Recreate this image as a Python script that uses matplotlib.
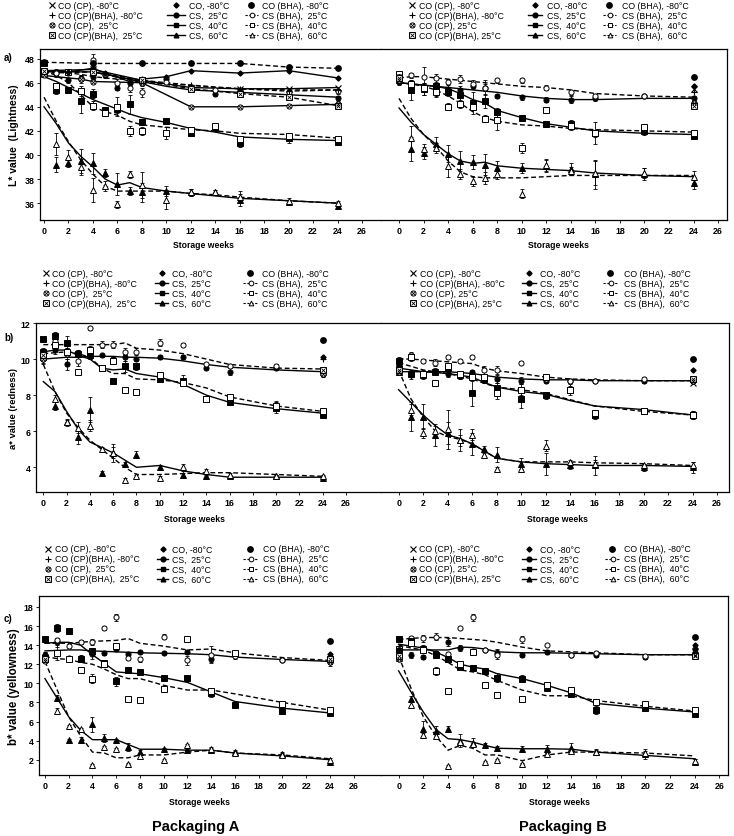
import matplotlib
matplotlib.use('Agg')
import matplotlib.pyplot as plt

plt.rcParams['font.family'] = ['Liberation Sans', 'DejaVu Sans']

# ---------------- data ----------------
WEEKS = [0, 1, 2, 3, 4, 5, 6, 7, 8, 10, 12, 14, 16, 20, 24]
XTICKS = list(range(0, 27, 2))

# L* packaging A
LA_cs25 = [46.9, 46.8, 46.2, 46.4, 46.5, 46.6, 45.6, 46.0, 46.0, 46.3, 45.5, 45.1, 45.4, 45.0, 44.7]
LA_cs25_err = [0.2, 0.2, 0.2, 0.2, 0.3, 0.2, 0.2, 0.3, 0.3, 0.2, 0.2, 0.2, 0.2, 0.2, 0.2]
LA_cs25_fit = [46.9, 46.9, 46.9, 46.9, 46.9, 46.7, 46.5, 46.3, 46.1, 45.7, 45.4, 45.3, 45.2, 45.0, 44.8]
LA_csb25 = [46.9, 46.8, 46.8, 46.3, 47.9, 46.7, 46.0, 45.6, 45.2, 46.1, 45.6, 45.4, 45.2, 45.2, 45.3]
LA_csb25_err = [0.2, 0.3, 0.2, 0.3, 0.5, 0.2, 0.3, 0.4, 0.4, 0.2, 0.2, 0.2, 0.3, 0.2, 0.2]
LA_csb25_fit = [46.9, 46.9, 46.8, 46.7, 46.5, 46.4, 46.3, 46.3, 46.2, 46.0, 45.8, 45.6, 45.5, 45.4, 45.4]
LA_cs40 = [47.6, 45.4, 45.4, 44.5, 45.1, 43.7, 43.8, 44.2, 42.7, 42.8, 41.8, 42.2, 41.0, 41.4, 41.1]
LA_cs40_err = [0.2, 0.3, 0.2, 1.0, 0.4, 0.3, 0.3, 0.8, 0.2, 0.2, 0.2, 0.2, 0.3, 0.4, 0.2]
LA_cs40_fit = [46.5, 46.1, 45.6, 45.1, 44.6, 44.2, 43.8, 43.4, 43.1, 42.7, 42.2, 41.9, 41.5, 41.3, 41.2]
LA_csb40 = [46.9, 45.7, 46.9, 45.3, 44.1, 43.5, 44.0, 42.0, 42.0, 41.8, 42.1, 42.4, 41.3, 41.6, 41.3]
LA_csb40_err = [0.2, 0.3, 0.2, 0.4, 0.4, 0.3, 0.8, 0.4, 0.3, 0.5, 0.2, 0.2, 0.3, 0.2, 0.2]
LA_csb40_fit = [47.0, 46.6, 46.0, 45.0, 44.0, 43.6, 43.3, 42.8, 42.5, 42.3, 42.1, 42.0, 41.8, 41.7, 41.4]
LA_cs60 = [46.8, 39.2, 39.3, 39.5, 39.3, 38.5, 37.6, 37.0, 36.9, 37.0, 36.9, 36.9, 36.3, 36.1, 35.8]
LA_cs60_err = [0.2, 0.6, 0.3, 1.0, 0.9, 0.3, 0.9, 0.3, 0.8, 0.4, 0.3, 0.2, 0.5, 0.2, 0.2]
LA_cs60_fit = [44.0, 42.6, 41.0, 39.9, 39.0, 38.0, 37.5, 37.7, 37.3, 37.0, 36.8, 36.6, 36.4, 36.2, 36.0]
LA_csb60 = [46.7, 40.9, 39.8, 39.0, 37.1, 37.4, 35.9, 38.4, 37.5, 36.3, 36.9, 36.9, 36.5, 36.2, 36.0]
LA_csb60_err = [0.2, 0.9, 0.6, 0.7, 1.0, 0.4, 0.3, 0.3, 1.1, 0.8, 0.3, 0.2, 0.5, 0.2, 0.2]
LA_csb60_fit = [44.8, 42.8, 41.1, 39.6, 38.4, 37.4, 37.0, 37.0, 37.0, 37.0, 36.8, 36.7, 36.5, 36.2, 36.0]
# CO series in L* packaging A (tracked over time)
LA_co80_wk = [0, 2, 4, 5, 7, 8, 10, 12, 16, 20, 24]
LA_co80 = [47.0, 46.9, 47.2, 46.8, 46.1, 46.3, 46.5, 47.0, 46.8, 47.0, 46.4]
LA_cobha80_wk = [0, 4, 8, 12, 16, 20, 24]
LA_cobha80 = [47.7, 47.6, 47.6, 47.6, 47.6, 47.3, 47.2]
LA_cocp80_wk = [0, 4, 8, 12, 16, 20, 24]
LA_cocp80 = [47.0, 47.1, 46.2, 45.6, 45.5, 45.5, 45.6]
LA_cocpbha80_wk = [0, 4, 8, 12, 16, 20, 24]
LA_cocpbha80 = [46.8, 46.9, 46.0, 45.8, 45.5, 45.3, 45.4]
LA_cocp25_wk = [0, 3, 4, 8, 12, 16, 20, 24]
LA_cocp25 = [46.6, 46.3, 46.1, 46.0, 44.0, 44.0, 44.1, 44.2]
LA_cocpbha25_wk = [0, 4, 8, 12, 16, 20, 24]
LA_cocpbha25 = [47.0, 46.9, 46.2, 45.5, 45.1, 44.8, 44.1]

# L* packaging B
LB_cs25 = [46.1, 45.9, 45.5, 45.2, 45.5, 45.4, 45.7, 45.6, 44.9, 44.8, 44.6, 44.6, 44.7, 44.9, 44.7]
LB_cs25_err = [0.3, 0.2, 0.5, 0.4, 0.3, 0.3, 0.2, 0.3, 0.2, 0.2, 0.2, 0.3, 0.2, 0.2, 0.2]
LB_cs25_fit = [46.0, 45.9, 45.8, 45.7, 45.6, 45.5, 45.4, 45.3, 45.2, 44.9, 44.7, 44.6, 44.6, 44.7, 44.7]
LB_csb25 = [46.6, 46.6, 46.5, 46.4, 46.1, 46.3, 45.9, 45.6, 46.2, 46.2, 45.6, 45.2, 44.9, 44.9, 44.3]
LB_csb25_err = [0.2, 0.2, 0.8, 0.3, 0.2, 0.3, 0.3, 0.6, 0.2, 0.2, 0.2, 0.2, 0.2, 0.2, 0.2]
LB_csb25_fit = [46.4, 46.5, 46.5, 46.4, 46.3, 46.2, 46.1, 46.0, 45.9, 45.7, 45.6, 45.4, 45.1, 44.9, 44.8]
LB_cs40 = [46.6, 45.4, 45.5, 45.7, 45.2, 45.0, 44.3, 44.5, 43.6, 43.1, 42.6, 42.6, 41.8, 42.0, 41.6]
LB_cs40_err = [0.3, 0.8, 0.5, 0.3, 0.3, 0.4, 0.9, 0.6, 0.3, 0.2, 0.2, 0.3, 0.9, 0.3, 0.3]
LB_cs40_fit = [46.0, 45.9, 45.8, 45.7, 45.5, 45.1, 44.6, 44.3, 43.7, 43.1, 42.6, 42.3, 42.0, 41.8, 41.7]
LB_csb40 = [46.7, 45.9, 45.6, 45.2, 44.0, 44.2, 44.0, 43.0, 42.9, 40.6, 43.7, 42.4, 41.8, 42.3, 41.8]
LB_csb40_err = [0.3, 0.3, 0.3, 0.3, 0.3, 0.3, 0.3, 0.3, 0.8, 0.4, 0.2, 0.3, 0.3, 0.3, 0.3]
LB_csb40_fit = [46.0, 45.9, 45.7, 45.4, 44.9, 44.3, 43.6, 43.1, 42.8, 42.5, 42.4, 42.2, 42.1, 42.0, 41.9]
LB_cs60 = [46.2, 40.5, 40.2, 40.9, 40.1, 39.5, 39.4, 39.2, 38.9, 38.9, 39.1, 38.8, 38.4, 38.4, 37.7]
LB_cs60_err = [0.3, 1.0, 0.5, 0.6, 0.7, 0.8, 0.6, 0.9, 0.6, 0.4, 0.5, 0.5, 1.2, 0.5, 0.5]
LB_cs60_fit = [43.9, 42.7, 41.7, 40.9, 40.1, 39.5, 39.3, 39.4, 39.1, 38.9, 38.8, 38.7, 38.5, 38.3, 38.2]
LB_csb60 = [46.3, 41.4, 40.5, 40.6, 39.1, 38.4, 37.8, 38.1, 38.4, 36.8, 39.2, 38.7, 38.5, 38.5, 38.2]
LB_csb60_err = [0.3, 1.0, 0.4, 0.4, 0.9, 0.4, 0.4, 0.5, 0.4, 0.4, 0.5, 0.3, 1.0, 0.4, 0.5]
LB_csb60_fit = [44.7, 43.0, 41.7, 40.7, 39.5, 38.6, 38.2, 38.1, 38.1, 38.1, 38.2, 38.3, 38.3, 38.3, 38.3]
LB_co = {'co80': [46.3, 45.75], 'cobha80': [46.5, 46.5], 'cocp80': [46.5, 45.5],
         'cocpbha80': [46.4, 45.2], 'cocp25': [46.2, 44.3], 'cocpbha25': [46.4, 44.1]}

# a* packaging A
aA_cs25 = [10.0, 10.5, 9.7, 10.3, 10.2, 10.2, 10.0, 10.1, 10.0, 10.1, 10.1, 9.5, 9.3, 9.5, 9.3]
aA_cs25_err = [0.3, 0.2, 0.3, 0.2, 0.2, 0.1, 0.1, 0.2, 0.1, 0.1, 0.1, 0.1, 0.2, 0.1, 0.2]
aA_cs25_fit = [10.0, 10.05, 10.1, 10.1, 10.15, 10.15, 10.15, 10.1, 10.1, 10.05, 9.9, 9.7, 9.55, 9.4, 9.3]
aA_csb25 = [10.3, 11.0, 10.3, 9.9, 11.7, 10.8, 10.8, 10.4, 10.4, 10.9, 10.8, 9.7, 9.6, 9.6, 9.2]
aA_csb25_err = [0.2, 0.3, 0.3, 0.3, 0.1, 0.2, 0.2, 0.2, 0.2, 0.2, 0.1, 0.1, 0.1, 0.1, 0.2]
aA_csb25_fit = [10.8, 10.8, 10.8, 10.8, 10.8, 10.8, 10.8, 10.9, 10.6, 10.5, 10.3, 10.0, 9.7, 9.5, 9.45]
aA_cs40 = [11.1, 11.3, 10.9, 10.3, 10.2, 9.5, 8.8, 9.6, 9.6, 8.9, 8.8, 7.8, 7.6, 7.3, 6.9]
aA_cs40_err = [0.1, 0.2, 0.4, 0.2, 0.2, 0.1, 0.1, 0.3, 0.2, 0.1, 0.3, 0.1, 0.1, 0.3, 0.1]
aA_cs40_fit = [10.4, 10.5, 10.5, 10.2, 10.0, 9.5, 9.4, 9.45, 9.2, 9.0, 8.6, 8.0, 7.6, 7.25, 7.0]
aA_csb40 = [10.4, 10.8, 10.4, 9.3, 10.5, 9.5, 9.9, 8.3, 8.2, 9.1, 8.7, 7.8, 7.9, 7.4, 7.1]
aA_csb40_err = [0.2, 0.2, 0.2, 0.1, 0.2, 0.1, 0.1, 0.1, 0.1, 0.2, 0.2, 0.1, 0.1, 0.3, 0.1]
aA_csb40_fit = [10.3, 10.35, 10.4, 10.3, 10.1, 9.5, 9.2, 9.2, 8.9, 8.85, 8.7, 8.4, 7.9, 7.4, 7.1]
aA_cs60 = [10.1, 7.4, 6.5, 5.7, 7.2, 3.7, 4.8, 4.2, 4.7, 4.0, 3.6, 3.5, 3.5, 3.5, 3.4]
aA_cs60_err = [0.3, 0.2, 0.1, 0.4, 0.7, 0.1, 0.5, 0.1, 0.2, 0.1, 0.1, 0.1, 0.1, 0.1, 0.1]
aA_cs60_fit = [8.75, 8.2, 7.1, 6.1, 5.4, 5.1, 4.8, 4.4, 4.0, 4.1, 3.8, 3.6, 3.45, 3.45, 3.45]
aA_csb60 = [10.2, 7.8, 6.5, 6.2, 6.3, 5.0, 4.8, 3.3, 3.5, 3.4, 4.0, 3.8, 3.6, 3.5, 3.5]
aA_csb60_err = [0.2, 0.2, 0.2, 0.3, 0.3, 0.1, 0.3, 0.1, 0.1, 0.1, 0.2, 0.1, 0.1, 0.1, 0.1]
aA_csb60_fit = [9.7, 8.2, 7.0, 6.2, 5.5, 5.0, 4.5, 4.0, 3.6, 3.6, 3.65, 3.7, 3.7, 3.6, 3.5]
aA_co = {'co80': [10.3, 10.1], 'cobha80': [10.4, 11.05], 'cocp80': [10.3, 9.3],
         'cocpbha80': [10.2, 10.0], 'cocp25': [10.0, 9.2], 'cocpbha25': [10.2, 9.4]}

# a* packaging B
aB_cs25 = [9.3, 9.1, 9.2, 9.3, 9.2, 9.1, 9.3, 9.0, 8.9, 8.8, 8.8, 8.8, 8.8, 8.8, 8.8]
aB_cs25_err = [0.2, 0.2, 0.1, 0.1, 0.2, 0.2, 0.1, 0.2, 0.2, 0.2, 0.1, 0.1, 0.1, 0.1, 0.1]
aB_cs25_fit = [9.3, 9.3, 9.3, 9.3, 9.3, 9.25, 9.2, 9.1, 9.0, 8.9, 8.85, 8.85, 8.8, 8.8, 8.8]
aB_csb25 = [9.5, 10.2, 9.9, 9.8, 10.1, 9.9, 10.1, 9.4, 9.4, 9.8, 8.9, 8.8, 8.8, 8.9, 8.8]
aB_csb25_err = [0.2, 0.2, 0.1, 0.2, 0.1, 0.1, 0.1, 0.2, 0.2, 0.1, 0.1, 0.1, 0.1, 0.1, 0.1]
aB_csb25_fit = [10.0, 10.0, 9.95, 9.9, 9.85, 9.8, 9.75, 9.5, 9.35, 9.2, 9.0, 8.9, 8.85, 8.8, 8.8]
aB_cs40 = [9.9, 9.2, 9.1, 9.3, 9.5, 9.1, 8.1, 8.9, 8.4, 7.8, 8.0, 8.3, 6.9, 7.1, 6.9]
aB_cs40_err = [0.2, 0.2, 0.2, 0.2, 0.2, 0.2, 0.7, 0.2, 0.3, 0.5, 0.2, 0.3, 0.2, 0.1, 0.2]
aB_cs40_fit = [9.5, 9.4, 9.3, 9.25, 9.2, 9.1, 9.0, 8.7, 8.45, 8.2, 8.05, 7.7, 7.4, 7.2, 6.9]
aB_csb40 = [9.4, 10.1, 9.2, 8.7, 9.6, 9.2, 9.0, 9.0, 8.1, 8.3, 9.0, 8.3, 7.0, 7.1, 6.9]
aB_csb40_err = [0.2, 0.2, 0.2, 0.1, 0.2, 0.1, 0.1, 0.2, 0.3, 0.3, 0.1, 0.2, 0.2, 0.1, 0.2]
aB_csb40_fit = [9.8, 9.6, 9.4, 9.3, 9.2, 9.05, 8.9, 8.65, 8.45, 8.3, 8.1, 7.75, 7.4, 7.1, 6.9]
aB_cs60 = [9.3, 6.8, 6.8, 5.8, 5.9, 5.5, 5.3, 5.0, 4.7, 4.2, 4.2, 4.1, 4.1, 4.0, 4.0]
aB_cs60_err = [0.2, 0.8, 0.7, 0.6, 0.6, 0.6, 0.6, 0.2, 0.4, 0.3, 0.6, 0.2, 0.5, 0.2, 0.3]
aB_cs60_fit = [8.3, 7.6, 6.9, 6.3, 5.8, 5.6, 5.3, 4.9, 4.5, 4.3, 4.2, 4.15, 4.1, 4.1, 4.05]
aB_csb60 = [9.3, 7.2, 5.9, 6.0, 6.1, 5.5, 5.8, 4.7, 3.9, 3.9, 5.2, 4.3, 4.2, 4.1, 4.1]
aB_csb60_err = [0.2, 0.3, 0.3, 0.3, 1.1, 0.3, 0.3, 0.2, 0.1, 0.1, 0.3, 0.1, 0.2, 0.1, 0.2]
aB_csb60_fit = [9.4, 7.8, 6.8, 6.0, 5.7, 5.55, 5.3, 4.9, 4.5, 4.3, 4.3, 4.3, 4.25, 4.2, 4.1]
aB_co = {'co80': [9.5, 9.4], 'cobha80': [9.6, 10.0], 'cocp80': [9.6, 8.7],
         'cocpbha80': [9.5, 8.8], 'cocp25': [9.3, 8.8], 'cocpbha25': [9.4, 8.9]}

# b* packaging A
bA_cs25 = [13.0, 14.3, 12.7, 12.7, 13.1, 13.2, 13.6, 13.1, 13.3, 13.2, 13.3, 12.6, 13.0, 12.4, 12.2]
bA_cs25_err = [0.3, 0.5, 0.2, 0.3, 0.5, 0.2, 0.2, 0.2, 0.1, 0.1, 0.2, 0.4, 0.2, 0.1, 0.4]
bA_cs25_fit = [13.4, 13.45, 13.5, 13.5, 13.4, 13.35, 13.3, 13.25, 13.2, 13.15, 13.1, 13.0, 12.75, 12.5, 12.3]
bA_csb25 = [12.5, 14.5, 13.9, 14.3, 14.3, 15.8, 16.9, 12.7, 12.5, 14.9, 12.4, 13.0, 12.9, 12.4, 12.4]
bA_csb25_err = [0.3, 0.3, 0.2, 0.2, 0.3, 0.2, 0.4, 0.3, 0.3, 0.3, 0.5, 0.9, 0.3, 0.1, 0.3]
bA_csb25_fit = [14.2, 14.2, 14.2, 14.3, 14.4, 14.45, 14.5, 14.7, 14.2, 13.9, 13.5, 13.6, 13.2, 12.7, 12.4]
bA_cs40 = [14.6, 15.8, 15.5, 12.5, 13.4, 12.1, 10.2, 11.4, 11.2, 10.6, 10.6, 9.0, 7.7, 7.1, 6.9]
bA_cs40_err = [0.2, 0.4, 0.2, 0.2, 0.3, 0.2, 0.5, 0.3, 0.2, 0.2, 0.2, 0.4, 0.2, 0.1, 0.2]
bA_cs40_fit = [14.2, 14.3, 14.3, 14.0, 13.0, 12.1, 11.2, 11.1, 11.0, 10.6, 10.1, 9.1, 8.1, 7.4, 6.9]
bA_csb40 = [12.7, 13.2, 12.6, 11.4, 10.5, 12.0, 13.9, 8.4, 8.3, 9.4, 14.6, 9.2, 13.2, 7.8, 7.2]
bA_csb40_err = [0.3, 0.8, 0.2, 0.2, 0.5, 0.2, 0.3, 0.1, 0.3, 0.3, 0.2, 0.3, 0.2, 0.1, 0.2]
bA_csb40_fit = [12.8, 12.6, 12.5, 12.2, 12.0, 11.5, 10.9, 10.5, 10.5, 9.8, 9.3, 9.3, 8.9, 8.0, 7.2]
bA_cs60 = [13.0, 8.5, 4.1, 4.1, 5.7, 4.3, 4.1, 3.3, 2.8, 3.1, 3.0, 3.0, 2.8, 2.6, 1.8]
bA_cs60_err = [0.3, 0.3, 0.1, 0.3, 0.8, 0.4, 0.1, 0.4, 0.2, 0.1, 0.1, 0.2, 0.2, 0.2, 0.2]
bA_cs60_fit = [10.5, 8.5, 6.5, 5.1, 4.1, 4.1, 4.1, 3.6, 3.1, 3.1, 3.0, 3.0, 2.7, 2.4, 2.0]
bA_csb60 = [12.6, 7.1, 5.5, 5.2, 1.4, 3.3, 3.1, 1.6, 2.4, 2.0, 3.5, 3.1, 2.7, 2.5, 2.0]
bA_csb60_err = [0.3, 0.3, 0.1, 0.1, 0.1, 0.1, 0.1, 0.1, 0.1, 0.1, 0.1, 0.2, 0.2, 0.2, 0.2]
bA_csb60_fit = [12.3, 9.4, 6.5, 4.5, 2.8, 2.7, 2.2, 2.2, 2.5, 2.5, 2.8, 3.0, 2.7, 2.5, 2.1]
bA_co = {'co80': [13.0, 13.1], 'cobha80': [12.9, 14.4], 'cocp80': [12.6, 12.5],
         'cocpbha80': [12.7, 12.8], 'cocp25': [12.3, 12.2], 'cocpbha25': [12.6, 12.5]}

# b* packaging B
bB_cs25 = [13.0, 13.0, 12.8, 13.2, 14.3, 13.7, 13.4, 13.5, 13.2, 13.0, 13.3, 13.0, 13.0, 12.8, 13.6]
bB_cs25_err = [0.5, 0.3, 0.2, 0.2, 0.4, 0.3, 0.2, 0.2, 0.4, 0.2, 0.2, 0.2, 0.2, 0.2, 0.3]
bB_cs25_fit = [13.5, 13.5, 13.5, 13.5, 13.5, 13.8, 13.75, 13.6, 13.3, 13.2, 13.2, 13.15, 13.1, 13.0, 13.0]
bB_csb25 = [12.6, 14.8, 14.7, 14.9, 13.1, 15.8, 16.9, 13.5, 13.0, 14.6, 14.0, 13.0, 13.2, 12.9, 13.2]
bB_csb25_err = [0.3, 0.2, 0.4, 0.4, 0.2, 0.1, 0.4, 0.2, 0.5, 0.4, 0.1, 0.1, 0.2, 0.2, 0.2]
bB_csb25_fit = [14.6, 14.7, 14.8, 14.8, 14.8, 14.7, 14.6, 14.5, 14.3, 13.8, 13.4, 13.3, 13.2, 13.0, 13.0]
bB_cs40 = [14.6, 14.4, 13.6, 13.0, 12.6, 11.7, 11.6, 11.3, 10.6, 10.5, 9.5, 8.9, 7.2, 7.4, 6.8]
bB_cs40_err = [0.2, 0.3, 0.4, 0.3, 0.2, 0.3, 0.3, 0.3, 0.5, 0.4, 0.3, 0.3, 0.4, 0.2, 0.2]
bB_cs40_fit = [14.1, 13.9, 13.7, 13.3, 12.7, 12.0, 11.7, 11.5, 11.0, 10.5, 9.8, 9.0, 7.9, 7.4, 7.0]
bB_csb40 = [13.6, 14.2, 13.5, 11.3, 9.2, 12.0, 13.3, 9.8, 8.8, 8.4, 9.8, 9.3, 8.0, 7.8, 7.2]
bB_csb40_err = [0.2, 0.2, 0.2, 0.4, 0.3, 0.3, 0.2, 0.1, 0.3, 0.1, 0.1, 0.3, 0.3, 0.2, 0.2]
bB_csb40_fit = [14.0, 13.7, 13.5, 12.9, 12.2, 11.4, 11.2, 10.9, 10.3, 9.3, 8.7, 8.7, 8.2, 7.6, 7.1]
bB_cs60 = [13.2, 8.4, 5.2, 5.0, 5.2, 4.0, 3.8, 3.5, 3.2, 3.1, 3.1, 3.2, 2.8, 2.6, 1.8]
bB_cs60_err = [0.3, 0.3, 0.9, 0.5, 0.3, 0.7, 0.5, 0.3, 0.2, 0.3, 0.4, 0.6, 0.3, 0.5, 0.3]
bB_cs60_fit = [11.3, 9.1, 7.0, 5.2, 4.2, 4.1, 3.85, 3.5, 3.2, 3.15, 3.15, 3.1, 2.8, 2.45, 2.1]
bB_csb60 = [12.7, 7.7, 4.6, 4.5, 1.3, 3.9, 3.6, 1.8, 2.0, 1.6, 2.6, 2.9, 2.8, 2.7, 1.9]
bB_csb60_err = [0.3, 0.3, 0.2, 0.2, 0.1, 0.2, 0.2, 0.1, 0.1, 0.1, 0.1, 0.2, 0.2, 0.2, 0.2]
bB_csb60_fit = [12.9, 9.5, 6.5, 4.5, 3.0, 3.5, 3.2, 2.5, 2.5, 1.9, 2.5, 2.8, 2.8, 2.7, 2.4]
bB_co = {'co80': [13.3, 14.0], 'cobha80': [13.5, 14.9], 'cocp80': [13.0, 13.4],
         'cocpbha80': [13.2, 13.3], 'cocp25': [12.6, 13.0], 'cocpbha25': [12.9, 12.9]}
CO_WEEKS = [0, 24]

# legend texts
LEG1_A = ["CO (CP), -80\u00b0C", "CO (CP)(BHA), -80\u00b0C", "CO (CP),  25\u00b0C", "CO (CP)(BHA),  25\u00b0C"]
LEG1_B = ["CO (CP), -80\u00b0C", "CO (CP)(BHA), -80\u00b0C", "CO (CP), 25\u00b0C", "CO (CP)(BHA), 25\u00b0C"]
LEG2 = ["CO, -80\u00b0C", "CS,  25\u00b0C", "CS,  40\u00b0C", "CS,  60\u00b0C"]
LEG3 = ["CO (BHA), -80\u00b0C", "CS (BHA),  25\u00b0C", "CS (BHA),  40\u00b0C", "CS (BHA),  60\u00b0C"]

# ---------------- drawing ----------------
W, H = 734, 837
fig = plt.figure(figsize=(W / 100, H / 100), dpi=100)

TICKFONT = dict(fontsize=6.4, fontweight='bold')
DASH = (0, (3.5, 2))
LEGFS = 6.3
LW = 1.0


def add_ax(x0, x1, y0, y1):
    return fig.add_axes([x0 / W, 1 - y1 / H, (x1 - x0) / W, (y1 - y0) / H])


def mk(ax, x, y, kind, ms=3.7, zorder=5):
    if kind == 'x':
        ax.plot(x, y, ls='none', marker='x', ms=ms, mec='k', mew=0.8, zorder=zorder)
    elif kind == '+':
        ax.plot(x, y, ls='none', marker='+', ms=ms + 0.8, mec='k', mew=0.8, zorder=zorder)
    elif kind == 'ox':
        ax.plot(x, y, ls='none', marker='o', ms=ms, mfc='white', mec='k', mew=0.7, zorder=zorder)
        ax.plot(x, y, ls='none', marker='x', ms=ms * 0.6, mec='k', mew=0.6, zorder=zorder + 0.1)
    elif kind == 'sx':
        ax.plot(x, y, ls='none', marker='s', ms=ms, mfc='white', mec='k', mew=0.7, zorder=zorder)
        ax.plot(x, y, ls='none', marker='x', ms=ms * 0.7, mec='k', mew=0.6, zorder=zorder + 0.1)
    elif kind == 'D':
        ax.plot(x, y, ls='none', marker='D', ms=ms * 0.7, mfc='k', mec='k', zorder=zorder)
    elif kind == 'O':
        ax.plot(x, y, ls='none', marker='o', ms=ms * 1.05, mfc='k', mec='k', zorder=zorder)


def draw_cs(ax, pts, err, fit, marker, filled, dashed):
    ax.plot(WEEKS, fit, color='k', lw=LW, ls=DASH if dashed else '-', zorder=2)
    ax.errorbar(WEEKS, pts, yerr=err, fmt='none', ecolor='k', elinewidth=0.6,
                capsize=1.5, capthick=0.6, zorder=3)
    ax.plot(WEEKS, pts, ls='none', marker=marker, ms=3.7,
            mfc='k' if filled else 'white', mec='k', mew=0.7, zorder=4)


CO_KINDS = {'co80': 'D', 'cobha80': 'O', 'cocp80': 'x', 'cocpbha80': '+', 'cocp25': 'ox', 'cocpbha25': 'sx'}


def draw_panel(ax, d, co):
    draw_cs(ax, d[0], d[1], d[2], 'o', True, False)
    draw_cs(ax, d[3], d[4], d[5], 'o', False, True)
    draw_cs(ax, d[6], d[7], d[8], 's', True, False)
    draw_cs(ax, d[9], d[10], d[11], 's', False, True)
    draw_cs(ax, d[12], d[13], d[14], '^', True, False)
    draw_cs(ax, d[15], d[16], d[17], '^', False, True)
    if co is not None:
        for key, vals in co.items():
            mk(ax, CO_WEEKS, vals, CO_KINDS[key])


def style(ax, side, xlim, ylim, yticks):
    ax.set_xlim(*xlim)
    ax.set_ylim(*ylim)
    ax.set_xticks(XTICKS)
    ax.set_xticklabels([str(t) for t in XTICKS], **TICKFONT)
    ax.tick_params(axis='x', direction='out', length=2, width=0.6, pad=2)
    for s in ax.spines.values():
        s.set_linewidth(0.9)
    if side == 'left':
        ax.spines['right'].set_visible(False)
        ax.set_yticks(yticks)
        ax.set_yticklabels([str(t) for t in yticks], **TICKFONT)
        ax.tick_params(axis='y', direction='out', length=2, width=0.6, pad=2)
    else:
        ax.spines['left'].set_visible(False)
        ax.set_yticks([])


rows = [
    dict(top=50, bot=221, lx=(40, 381, (-0.33, 27.55)), rx=(381, 727, (-1.47, 26.73)),
         ylim=(34.6, 48.8), yt=list(range(36, 49, 2)),
         A=[LA_cs25, LA_cs25_err, LA_cs25_fit, LA_csb25, LA_csb25_err, LA_csb25_fit,
            LA_cs40, LA_cs40_err, LA_cs40_fit, LA_csb40, LA_csb40_err, LA_csb40_fit,
            LA_cs60, LA_cs60_err, LA_cs60_fit, LA_csb60, LA_csb60_err, LA_csb60_fit],
         B=[LB_cs25, LB_cs25_err, LB_cs25_fit, LB_csb25, LB_csb25_err, LB_csb25_fit,
            LB_cs40, LB_cs40_err, LB_cs40_fit, LB_csb40, LB_csb40_err, LB_csb40_fit,
            LB_cs60, LB_cs60_err, LB_cs60_fit, LB_csb60, LB_csb60_err, LB_csb60_fit],
         coA=None, coB=LB_co, ylabel="L* value  (Lightness)", yfs=7.5, tag="a)", tagy=58, xl_y=246),
    dict(top=324, bot=493, lx=(36, 381, (-0.63, 29.0)), rx=(381, 729, (-1.44, 26.97)),
         ylim=(2.63, 12.0), yt=list(range(4, 13, 2)),
         A=[aA_cs25, aA_cs25_err, aA_cs25_fit, aA_csb25, aA_csb25_err, aA_csb25_fit,
            aA_cs40, aA_cs40_err, aA_cs40_fit, aA_csb40, aA_csb40_err, aA_csb40_fit,
            aA_cs60, aA_cs60_err, aA_cs60_fit, aA_csb60, aA_csb60_err, aA_csb60_fit],
         B=[aB_cs25, aB_cs25_err, aB_cs25_fit, aB_csb25, aB_csb25_err, aB_csb25_fit,
            aB_cs40, aB_cs40_err, aB_cs40_fit, aB_csb40, aB_csb40_err, aB_csb40_fit,
            aB_cs60, aB_cs60_err, aB_cs60_fit, aB_csb60, aB_csb60_err, aB_csb60_fit],
         coA=aA_co, coB=aB_co, ylabel="a* value (redness)", yfs=6.8, tag="b)", tagy=338, xl_y=520),
    dict(top=597, bot=776, lx=(39, 381, (-0.5, 28.3)), rx=(381, 728, (-1.43, 26.7)),
         ylim=(0.4, 19.15), yt=list(range(2, 19, 2)),
         A=[bA_cs25, bA_cs25_err, bA_cs25_fit, bA_csb25, bA_csb25_err, bA_csb25_fit,
            bA_cs40, bA_cs40_err, bA_cs40_fit, bA_csb40, bA_csb40_err, bA_csb40_fit,
            bA_cs60, bA_cs60_err, bA_cs60_fit, bA_csb60, bA_csb60_err, bA_csb60_fit],
         B=[bB_cs25, bB_cs25_err, bB_cs25_fit, bB_csb25, bB_csb25_err, bB_csb25_fit,
            bB_cs40, bB_cs40_err, bB_cs40_fit, bB_csb40, bB_csb40_err, bB_csb40_fit,
            bB_cs60, bB_cs60_err, bB_cs60_fit, bB_csb60, bB_csb60_err, bB_csb60_fit],
         coA=bA_co, coB=bB_co, ylabel="b* value (yellowness)", yfs=8.3, tag="c)", tagy=619, xl_y=803),
]

for r in rows:
    axL = add_ax(r['lx'][0], r['lx'][1], r['top'], r['bot'])
    axR = add_ax(r['rx'][0], r['rx'][1], r['top'], r['bot'])
    style(axL, 'left', r['lx'][2], r['ylim'], r['yt'])
    style(axR, 'right', r['rx'][2], r['ylim'], r['yt'])
    draw_panel(axL, r['A'], r['coA'])
    draw_panel(axR, r['B'], r['coB'])
    yc = 1 - (r['top'] + r['bot']) / 2 / H
    fig.text(14 / W, yc, r['ylabel'], rotation=90, ha='center', va='center',
             fontsize=r['yfs'], fontweight='bold')
    fig.text(4 / W, 1 - r['tagy'] / H, r['tag'], ha='left', va='center', fontsize=7, fontweight='bold')
    # "Storage weeks" centred under 0..26 of each panel
    for ax in (axL, axR):
        p = ax.transData.transform((13, 0))
        xf = fig.transFigure.inverted().transform(p)[0]
        fig.text(xf, 1 - r['xl_y'] / H, "Storage weeks", ha='center', va='center',
                 fontsize=6.2, fontweight='bold')

# extra CO series tracked over time in L* packaging A
axLA = fig.axes[0]
axLA.plot(LA_co80_wk, LA_co80, color='k', lw=LW, zorder=2)
mk(axLA, LA_co80_wk, LA_co80, 'D')
axLA.plot(LA_cobha80_wk, LA_cobha80, color='k', lw=LW, ls=DASH, zorder=2)
mk(axLA, LA_cobha80_wk, LA_cobha80, 'O')
axLA.plot(LA_cocp80_wk, LA_cocp80, color='k', lw=LW, zorder=2)
mk(axLA, LA_cocp80_wk, LA_cocp80, 'x')
axLA.plot(LA_cocpbha80_wk, LA_cocpbha80, color='k', lw=LW, ls=DASH, zorder=2)
mk(axLA, LA_cocpbha80_wk, LA_cocpbha80, '+')
axLA.plot(LA_cocp25_wk, LA_cocp25, color='k', lw=LW, zorder=2)
mk(axLA, LA_cocp25_wk, LA_cocp25, 'ox')
axLA.plot(LA_cocpbha25_wk, LA_cocpbha25, color='k', lw=LW, ls=DASH, zorder=2)
mk(axLA, LA_cocpbha25_wk, LA_cocpbha25, 'sx')

# packaging titles
fig.text(196 / W, 1 - 827 / H, "Packaging A", ha='center', va='center', fontsize=10.5, fontweight='bold')
fig.text(563 / W, 1 - 827 / H, "Packaging B", ha='center', va='center', fontsize=10.5, fontweight='bold')

# ---------------- legends (overlay in pixel coordinates) ----------------
lax = fig.add_axes([0, 0, 1, 1])
lax.set_xlim(0, W)
lax.set_ylim(H, 0)
lax.axis('off')

C1_KINDS = ['x', '+', 'ox', 'sx']
C2 = [('D', None), ('o', '-'), ('s', '-'), ('^', '-')]
C3 = [('O', None), ('o', DASH), ('s', DASH), ('^', DASH)]


def legend_block(y0, c1m, c1t, c2l, c2t, c3l, c3t, texts1):
    for i in range(4):
        y = y0 + 10 * i
        mk(lax, [c1m], [y], C1_KINDS[i], ms=3.7)
        lax.text(c1t, y, texts1[i], fontsize=LEGFS, va='center', ha='left')
        m, ls = C2[i]
        xm = (c2l[0] + c2l[1]) / 2
        if ls is None:
            mk(lax, [xm], [y], 'D', ms=3.7)
        else:
            lax.plot(c2l, [y, y], color='k', lw=LW, ls=ls)
            lax.plot([xm], [y], ls='none', marker=m, ms=3.4, mfc='k', mec='k')
        lax.text(c2t, y, LEG2[i], fontsize=LEGFS, va='center', ha='left')
        m, ls = C3[i]
        xm = (c3l[0] + c3l[1]) / 2
        if ls is None:
            mk(lax, [xm - 1], [y], 'O', ms=3.7)
        else:
            lax.plot(c3l, [y, y], color='k', lw=0.8, ls=(0, (2, 1.5)))
            lax.plot([xm], [y], ls='none', marker=m, ms=3.4, mfc='white', mec='k', mew=0.7)
        lax.text(c3t, y, LEG3[i], fontsize=LEGFS, va='center', ha='left')


# row a
legend_block(6, 52, 58, (167, 185), 189, (245, 258), 262, LEG1_A)
legend_block(6, 412, 419, (528, 542), 547, (603, 616), 622, LEG1_B)
# row b
legend_block(274, 46, 52, (155, 168), 172, (243, 258), 262, LEG1_A)
legend_block(274, 413, 420, (522, 536), 540, (603, 618), 624, LEG1_B)
# row c
legend_block(550, 48, 55, (157, 168), 172, (243, 258), 263, LEG1_A)
legend_block(550, 413, 419, (522, 536), 540, (605, 620), 624, LEG1_B)

fig.savefig("out.png", dpi=100)
